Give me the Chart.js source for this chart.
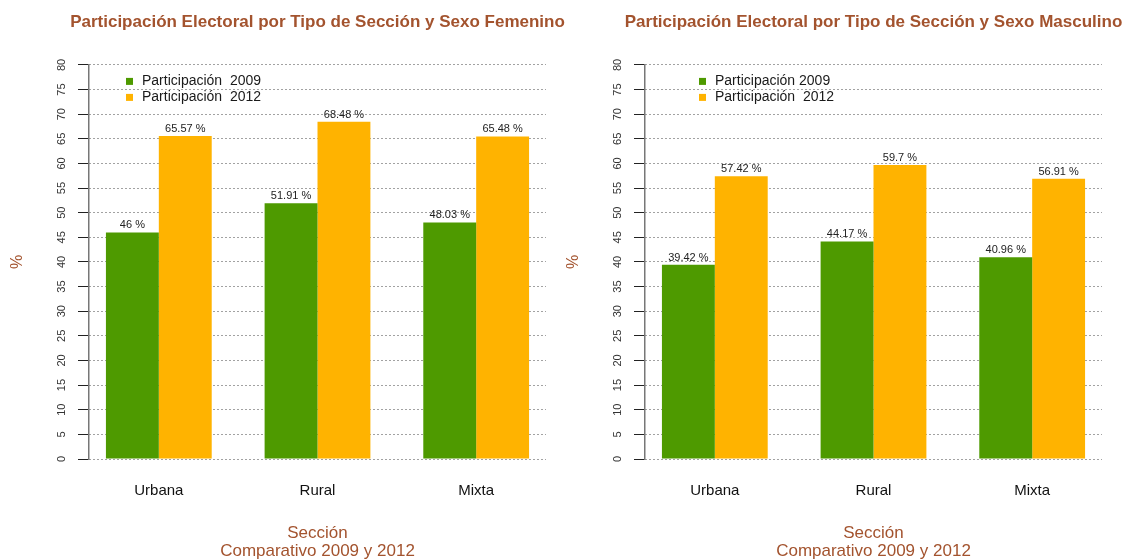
<!DOCTYPE html>
<html>
<head>
<meta charset="utf-8">
<script src="https://cdn.jsdelivr.net/npm/chart.js@4.4.0/dist/chart.umd.min.js"></script>
<style>
html, body { margin: 0; padding: 0; background: #ffffff; overflow: hidden; width: 1127px; height: 560px; }
canvas { position: absolute; top: 0; }
#chartF { left: 0px; }
#chartM { left: 556px; }
</style>
</head>
<body>
<canvas id="chartF" width="635" height="560"></canvas>
<canvas id="chartM" width="635" height="560"></canvas>
<script>
// ---- Data ----
const categories = ['Urbana', 'Rural', 'Mixta'];
const femenino2009 = [46, 51.91, 48.03];
const femenino2012 = [65.57, 68.48, 65.48];
const masculino2009 = [39.42, 44.17, 40.96];
const masculino2012 = [57.42, 59.7, 56.91];
const yTicks = [0, 5, 10, 15, 20, 25, 30, 35, 40, 45, 50, 55, 60, 65, 70, 75, 80];
const femeninoLegend = ['Participación  2009', 'Participación  2012'];
const masculinoLegend = ['Participación 2009', 'Participación  2012'];
const femeninoTitle = 'Participación Electoral por Tipo de Sección y Sexo Femenino';
const masculinoTitle = 'Participación Electoral por Tipo de Sección y Sexo Masculino';
const xAxisTitle = ['Sección', 'Comparativo 2009 y 2012'];
const yAxisTitle = '%';

// ---- Styles ----
const FONT = '"Liberation Sans", Arial, Helvetica, sans-serif';
const GREEN = '#4E9A00';
const ORANGE = '#FFB300';
const BROWN = '#A3532E';

// R barplot-like group positions (space = 1, two bars of width 1 per group)
const groupPos = (i) => 2 + 3 * i;

const valueLabels = {
  id: 'valueLabels',
  afterDatasetsDraw(chart) {
    const ctx = chart.ctx;
    ctx.save();
    ctx.font = '11px ' + FONT;
    ctx.fillStyle = '#222222';
    ctx.textAlign = 'center';
    ctx.textBaseline = 'middle';
    chart.data.datasets.forEach((ds, di) => {
      chart.getDatasetMeta(di).data.forEach((bar, i) => {
        ctx.fillText(ds.data[i].y + ' %', bar.x, bar.y - 7);
      });
    });
    ctx.restore();
  }
};

const boxLegend = {
  id: 'boxLegend',
  afterDatasetsDraw(chart, args, opts) {
    const { left, top } = chart.chartArea;
    const ctx = chart.ctx;
    ctx.save();
    ctx.font = '14px ' + FONT;
    ctx.textBaseline = 'middle';
    ctx.textAlign = 'left';
    chart.data.datasets.forEach((ds, i) => {
      const x = left + opts.offsetX;
      const y = top + opts.offsetY + i * opts.rowGap;
      ctx.fillStyle = ds.backgroundColor;
      ctx.fillRect(x, y - opts.box / 2, opts.box, opts.box);
      ctx.fillStyle = '#1a1a1a';
      ctx.fillText(ds.label, x + opts.textGap, y);
    });
    ctx.restore();
  }
};

function makeChart(id, title, legendLabels, d2009, d2012, legendX) {
  return new Chart(document.getElementById(id), {
    type: 'bar',
    data: {
      datasets: [
        { label: legendLabels[0], data: d2009.map((v, i) => ({ x: groupPos(i), y: v })),
          backgroundColor: GREEN, borderWidth: 0, xAxisID: 'x', yAxisID: 'y' },
        { label: legendLabels[1], data: d2012.map((v, i) => ({ x: groupPos(i), y: v })),
          backgroundColor: ORANGE, borderWidth: 0, xAxisID: 'x', yAxisID: 'y' }
      ]
    },
    options: {
      responsive: false,
      animation: false,
      devicePixelRatio: 1,
      layout: { padding: 0 },
      datasets: { bar: { categoryPercentage: 2 / 3, barPercentage: 1 } },
      plugins: {
        legend: { display: false },
        tooltip: { enabled: false },
        title: {
          display: true, text: title, color: BROWN,
          font: { family: FONT, size: 17, weight: 'bold', lineHeight: 1.2 },
          padding: { top: 12.5, bottom: 32 }
        },
        boxLegend: { offsetX: legendX, offsetY: 16.5, rowGap: 16, box: 7, textGap: 16 }
      },
      scales: {
        x: {
          type: 'linear', position: 'bottom', axis: 'x',
          min: 0.68, max: 9.32, offset: false,
          afterBuildTicks: (s) => { s.ticks = categories.map((c, i) => ({ value: groupPos(i) })); },
          afterFit: (s) => { s.height = 101; },
          grid: { display: false, drawTicks: false },
          border: { display: false },
          ticks: {
            callback: (v, i) => categories[i],
            font: { family: FONT, size: 15 }, color: '#111111',
            padding: 23, maxRotation: 0, minRotation: 0, autoSkip: false
          },
          title: {
            display: true, text: xAxisTitle, color: BROWN,
            font: { family: FONT, size: 17, lineHeight: '18px' },
            padding: { top: 0, bottom: 0 }
          }
        },
        y: {
          type: 'linear', position: 'left', axis: 'y',
          min: 0, max: 80,
          afterBuildTicks: (s) => { s.ticks = yTicks.map((v) => ({ value: v })); },
          afterFit: (s) => { s.width = 89; },
          grid: { color: '#444444', lineWidth: 1, drawTicks: true, tickLength: 11, tickColor: '#222222', tickWidth: 1 },
          border: { display: true, color: '#777777', width: 1.5, dash: [1, 3] },
          ticks: {
            font: { family: FONT, size: 11 }, color: '#333333',
            minRotation: 90, maxRotation: 90, crossAlign: 'center', padding: 10, autoSkip: false
          },
          title: {
            display: true, text: yAxisTitle, color: BROWN,
            font: { family: FONT, size: 16 }, padding: { top: 8 }
          }
        },
        yRight: {
          type: 'linear', position: 'right', axis: 'y', display: true,
          afterFit: (s) => { s.width = 89; },
          grid: { display: false, drawTicks: false },
          border: { display: false },
          ticks: { display: false }
        }
      }
    },
    plugins: [boxLegend, valueLabels]
  });
}

makeChart('chartF', femeninoTitle, femeninoLegend, femenino2009, femenino2012, 37);
makeChart('chartM', masculinoTitle, masculinoLegend, masculino2009, masculino2012, 54);
</script>
</body>
</html>
